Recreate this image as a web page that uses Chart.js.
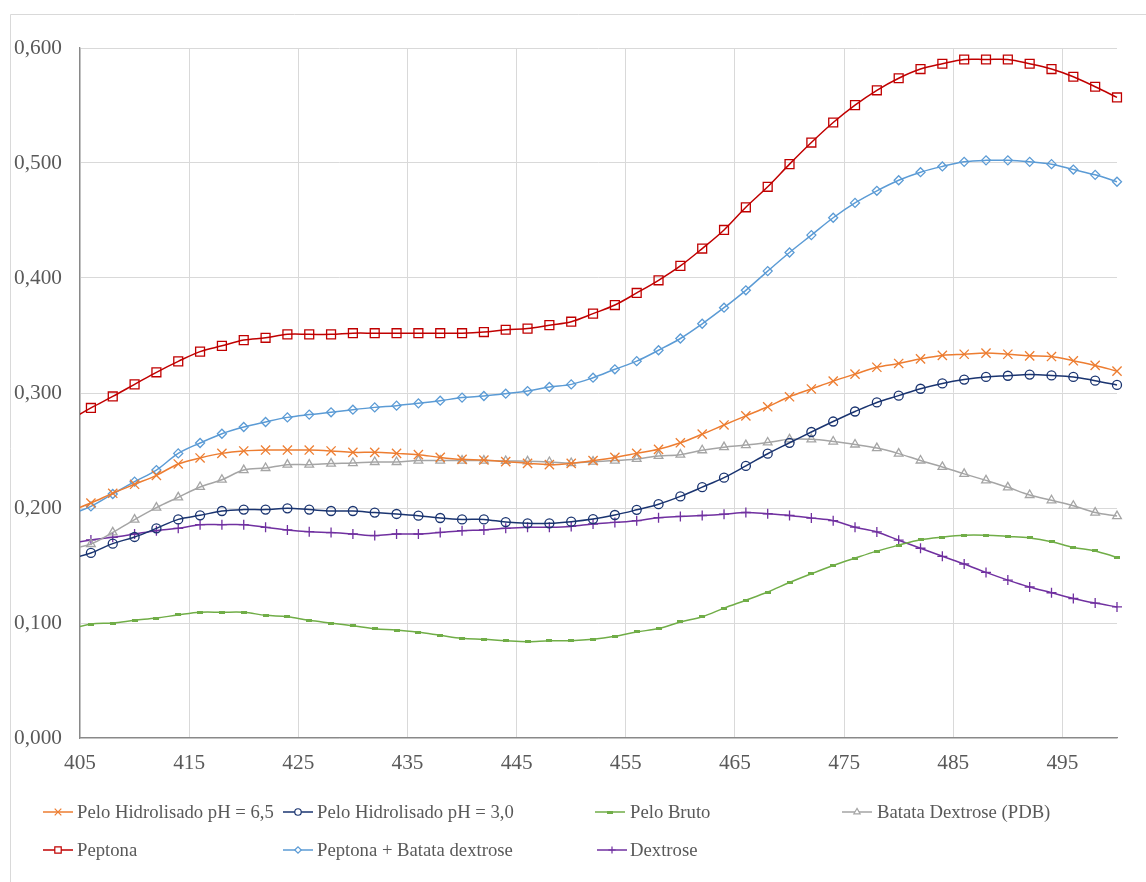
<!DOCTYPE html>
<html>
<head>
<meta charset="utf-8">
<title>Absorbância 405–500 nm</title>
<script src="https://cdn.jsdelivr.net/npm/chart.js@4/dist/chart.umd.min.js"></script>
<style>
  html, body { margin: 0; padding: 0; background: #ffffff; }
  #wrap { position: relative; width: 1146px; height: 882px; }
  canvas { display: block; }
</style>
</head>
<body>
<div id="wrap"><canvas id="chart" width="1146" height="882"></canvas></div>
<script>
// Wavelength (nm). The first entry (404) lies just left of the axis start and only
// shows as the line entering the plot at 405.
const wavelengths = [404, 406, 408, 410, 412, 414, 416, 418, 420, 422, 424, 426, 428, 430, 432, 434, 436, 438, 440, 442, 444, 446, 448, 450, 452, 454, 456, 458, 460, 462, 464, 466, 468, 470, 472, 474, 476, 478, 480, 482, 484, 486, 488, 490, 492, 494, 496, 498, 500];

const seriesNames = [
  'Pelo Hidrolisado pH = 6,5',
  'Pelo Hidrolisado pH = 3,0',
  'Pelo Bruto',
  'Batata Dextrose (PDB)',
  'Peptona',
  'Peptona + Batata dextrose',
  'Dextrose'
];

const peloHidrolisado65 = [0.197, 0.2043, 0.2128, 0.2206, 0.2284, 0.2383, 0.2435, 0.2475, 0.2496, 0.2504, 0.2504, 0.2504, 0.2496, 0.2484, 0.2484, 0.2475, 0.2464, 0.244, 0.2423, 0.2417, 0.2403, 0.2388, 0.2377, 0.2388, 0.2412, 0.244, 0.2475, 0.251, 0.2567, 0.2642, 0.2722, 0.2801, 0.288, 0.2967, 0.3035, 0.3103, 0.3164, 0.3224, 0.3257, 0.3297, 0.3327, 0.3337, 0.3347, 0.3337, 0.3323, 0.3317, 0.328, 0.324, 0.319];
const peloHidrolisado30 = [0.1557, 0.1609, 0.169, 0.1748, 0.1823, 0.1901, 0.1936, 0.1974, 0.1986, 0.1986, 0.1997, 0.1986, 0.1974, 0.1974, 0.196, 0.1948, 0.1933, 0.1913, 0.1901, 0.1901, 0.1878, 0.1867, 0.1867, 0.1881, 0.1904, 0.1939, 0.1984, 0.2033, 0.2101, 0.2181, 0.2264, 0.2366, 0.2472, 0.2567, 0.2661, 0.2752, 0.2839, 0.2918, 0.2977, 0.3037, 0.3083, 0.3117, 0.314, 0.315, 0.316, 0.3153, 0.314, 0.3107, 0.307];
const peloBruto = [0.0945, 0.0991, 0.1, 0.1023, 0.1043, 0.107, 0.1093, 0.1093, 0.1093, 0.1067, 0.1055, 0.1023, 0.1, 0.0977, 0.095, 0.0939, 0.0919, 0.0893, 0.0867, 0.0858, 0.0846, 0.0838, 0.0846, 0.0846, 0.0858, 0.0884, 0.0922, 0.0952, 0.1009, 0.1054, 0.1129, 0.1198, 0.1269, 0.1352, 0.1428, 0.15, 0.1564, 0.1625, 0.1677, 0.1723, 0.1747, 0.1763, 0.1763, 0.1753, 0.174, 0.1707, 0.1657, 0.1627, 0.157];
const batataDextrose = [0.164, 0.1687, 0.1788, 0.1899, 0.2003, 0.2093, 0.2183, 0.2246, 0.233, 0.2348, 0.2377, 0.2377, 0.2386, 0.2391, 0.24, 0.24, 0.2412, 0.2412, 0.2412, 0.2412, 0.2409, 0.2406, 0.24, 0.2391, 0.2403, 0.2412, 0.2427, 0.2453, 0.2464, 0.2502, 0.2529, 0.2547, 0.257, 0.2597, 0.2597, 0.2578, 0.2552, 0.2521, 0.2473, 0.2413, 0.2357, 0.2297, 0.224, 0.218, 0.2113, 0.2067, 0.202, 0.196, 0.193];
const peptona = [0.276, 0.287, 0.297, 0.3075, 0.318, 0.3275, 0.336, 0.341, 0.346, 0.348, 0.351, 0.351, 0.351, 0.352, 0.352, 0.352, 0.352, 0.352, 0.352, 0.353, 0.355, 0.356, 0.359, 0.362, 0.369, 0.3765, 0.387, 0.398, 0.4105, 0.4256, 0.4418, 0.4615, 0.4793, 0.499, 0.5178, 0.5352, 0.5503, 0.5632, 0.5737, 0.5817, 0.5863, 0.59, 0.59, 0.59, 0.5863, 0.5817, 0.575, 0.5663, 0.557];
const peptonaBatata = [0.194, 0.2014, 0.2122, 0.2229, 0.233, 0.2475, 0.2565, 0.2646, 0.2704, 0.2748, 0.2788, 0.2812, 0.2832, 0.2855, 0.2875, 0.289, 0.291, 0.2933, 0.296, 0.2974, 0.2994, 0.3017, 0.3052, 0.3075, 0.3133, 0.3206, 0.3277, 0.3372, 0.3474, 0.3602, 0.3742, 0.3893, 0.406, 0.4222, 0.4373, 0.4524, 0.4653, 0.4758, 0.485, 0.492, 0.497, 0.501, 0.5023, 0.5023, 0.501, 0.499, 0.4943, 0.4897, 0.4837];
const dextrose = [0.169, 0.1722, 0.1745, 0.1774, 0.1803, 0.1823, 0.1855, 0.1855, 0.1855, 0.1832, 0.1809, 0.1794, 0.1786, 0.1774, 0.176, 0.1774, 0.1774, 0.1788, 0.1803, 0.1809, 0.1823, 0.1832, 0.1832, 0.184, 0.1861, 0.1875, 0.189, 0.1916, 0.1927, 0.1935, 0.1946, 0.1961, 0.195, 0.1935, 0.1912, 0.189, 0.1833, 0.1792, 0.172, 0.165, 0.158, 0.1513, 0.144, 0.1373, 0.1313, 0.1263, 0.1213, 0.1173, 0.114];

const xTickValues = [405, 415, 425, 435, 445, 455, 465, 475, 485, 495];
const yTickValues = [0, 0.1, 0.2, 0.3, 0.4, 0.5, 0.6];

const FONT = '"Liberation Serif", "Times New Roman", serif';
const TEXT = '#595959';

// small filled dash used as the "Pelo Bruto" marker
function dashMarker(color, w, h) {
  const c = document.createElement('canvas');
  c.width = w; c.height = h;
  const g = c.getContext('2d');
  g.fillStyle = color;
  g.fillRect(0, 0, w, h);
  return c;
}

const styles = [
  { color: '#ED7D31', pointStyle: 'crossRot', radius: 6.5 },
  { color: '#1A3470', pointStyle: 'circle', radius: 4.5 },
  { color: '#70AD47', pointStyle: dashMarker('#70AD47', 6, 3), radius: 3 },
  { color: '#A5A5A5', pointStyle: 'triangle', radius: 5 },
  { color: '#C00000', pointStyle: 'rect', radius: 6.3 },
  { color: '#5B9BD5', pointStyle: 'rectRot', radius: 4.5 },
  { color: '#7030A0', pointStyle: 'cross', radius: 5 }
];
const seriesValues = [peloHidrolisado65, peloHidrolisado30, peloBruto, batataDextrose, peptona, peptonaBatata, dextrose];

const datasets = seriesValues.map((vals, i) => ({
  label: seriesNames[i],
  data: wavelengths.map((w, k) => ({ x: w, y: vals[k] })),
  borderColor: styles[i].color,
  backgroundColor: 'rgba(0,0,0,0)',
  borderWidth: 1.5,
  pointStyle: styles[i].pointStyle,
  pointRadius: (ctx) => (ctx.parsed && ctx.parsed.x < 405 ? 0 : styles[i].radius),
  pointBorderColor: styles[i].color,
  pointBackgroundColor: i === 2 ? styles[i].color : 'rgba(0,0,0,0)',
  pointBorderWidth: i === 2 ? 0 : 1.3,
  tension: 0.35,
  clip: { left: 0, top: 10, right: 12, bottom: 10 }
}));

// legend slots: line sample start, text start, row
const legendSlots = [
  { lx: 43, tx: 77, row: 0 },
  { lx: 283, tx: 317, row: 0 },
  { lx: 595, tx: 630, row: 0 },
  { lx: 842, tx: 877, row: 0 },
  { lx: 43, tx: 77, row: 1 },
  { lx: 283, tx: 317, row: 1 },
  { lx: 597, tx: 630, row: 1 }
];
const legendRowLine = [812, 850];
const legendRowBase = [818, 856];

// white background and the thin outer frame
const framePlugin = {
  id: 'frame',
  beforeDraw(chart) {
    const ctx = chart.ctx;
    ctx.save();
    ctx.fillStyle = '#ffffff';
    ctx.fillRect(0, 0, chart.width, chart.height);
    ctx.strokeStyle = '#d9d9d9';
    ctx.lineWidth = 1;
    ctx.beginPath();
    ctx.moveTo(10.5, chart.height);
    ctx.lineTo(10.5, 14.5);
    ctx.lineTo(chart.width, 14.5);
    ctx.stroke();
    ctx.restore();
  }
};

// two-row legend under the plot
const legendPlugin = {
  id: 'bottomLegend',
  afterDraw(chart) {
    const ctx = chart.ctx;
    ctx.save();
    ctx.font = '18.7px ' + FONT;
    ctx.textAlign = 'left';
    ctx.textBaseline = 'alphabetic';
    legendSlots.forEach((slot, i) => {
      const st = styles[i];
      const y = legendRowLine[slot.row];
      ctx.strokeStyle = st.color;
      ctx.lineWidth = 1.5;
      ctx.beginPath();
      ctx.moveTo(slot.lx, y);
      ctx.lineTo(slot.lx + 30, y);
      ctx.stroke();
      ctx.strokeStyle = st.color;
      ctx.fillStyle = i === 2 ? st.color : '#ffffff';
      ctx.lineWidth = 1.2;
      Chart.helpers.drawPoint(ctx, {
        pointStyle: st.pointStyle,
        radius: st.radius * 0.72,
        rotation: 0,
        borderWidth: i === 2 ? 0 : 1.2
      }, slot.lx + 15, y);
      ctx.fillStyle = TEXT;
      ctx.fillText(chart.data.datasets[i].label, slot.tx, legendRowBase[slot.row]);
    });
    ctx.restore();
  }
};

new Chart(document.getElementById('chart'), {
  type: 'line',
  data: { datasets },
  plugins: [framePlugin, legendPlugin],
  options: {
    responsive: false,
    animation: false,
    events: [],
    layout: { padding: { left: 0, right: 29, top: 48, bottom: 0 } },
    plugins: {
      legend: { display: false },
      tooltip: { enabled: false },
      title: { display: false }
    },
    scales: {
      x: {
        type: 'linear',
        min: 405,
        max: 500,
        afterBuildTicks(scale) { scale.ticks = xTickValues.map(v => ({ value: v })); },
        afterFit(scale) { scale.height = 144; },
        grid: { color: '#d9d9d9', lineWidth: 1, drawTicks: false },
        border: { color: '#898989', width: 1.3 },
        ticks: {
          color: TEXT,
          font: { family: FONT, size: 21.3 },
          padding: 13,
          maxRotation: 0,
          autoSkip: false,
          callback: (v) => String(v)
        }
      },
      y: {
        type: 'linear',
        min: 0,
        max: 0.6,
        afterBuildTicks(scale) { scale.ticks = yTickValues.map(v => ({ value: v })); },
        afterFit(scale) { scale.width = 80; },
        grid: { color: '#d9d9d9', lineWidth: 1, drawTicks: false },
        border: { color: '#898989', width: 1.3 },
        ticks: {
          color: TEXT,
          font: { family: FONT, size: 21.3 },
          padding: 18,
          autoSkip: false,
          callback: (v) => Number(v).toFixed(3).replace('.', ',')
        }
      }
    }
  }
});
</script>
</body>
</html>
